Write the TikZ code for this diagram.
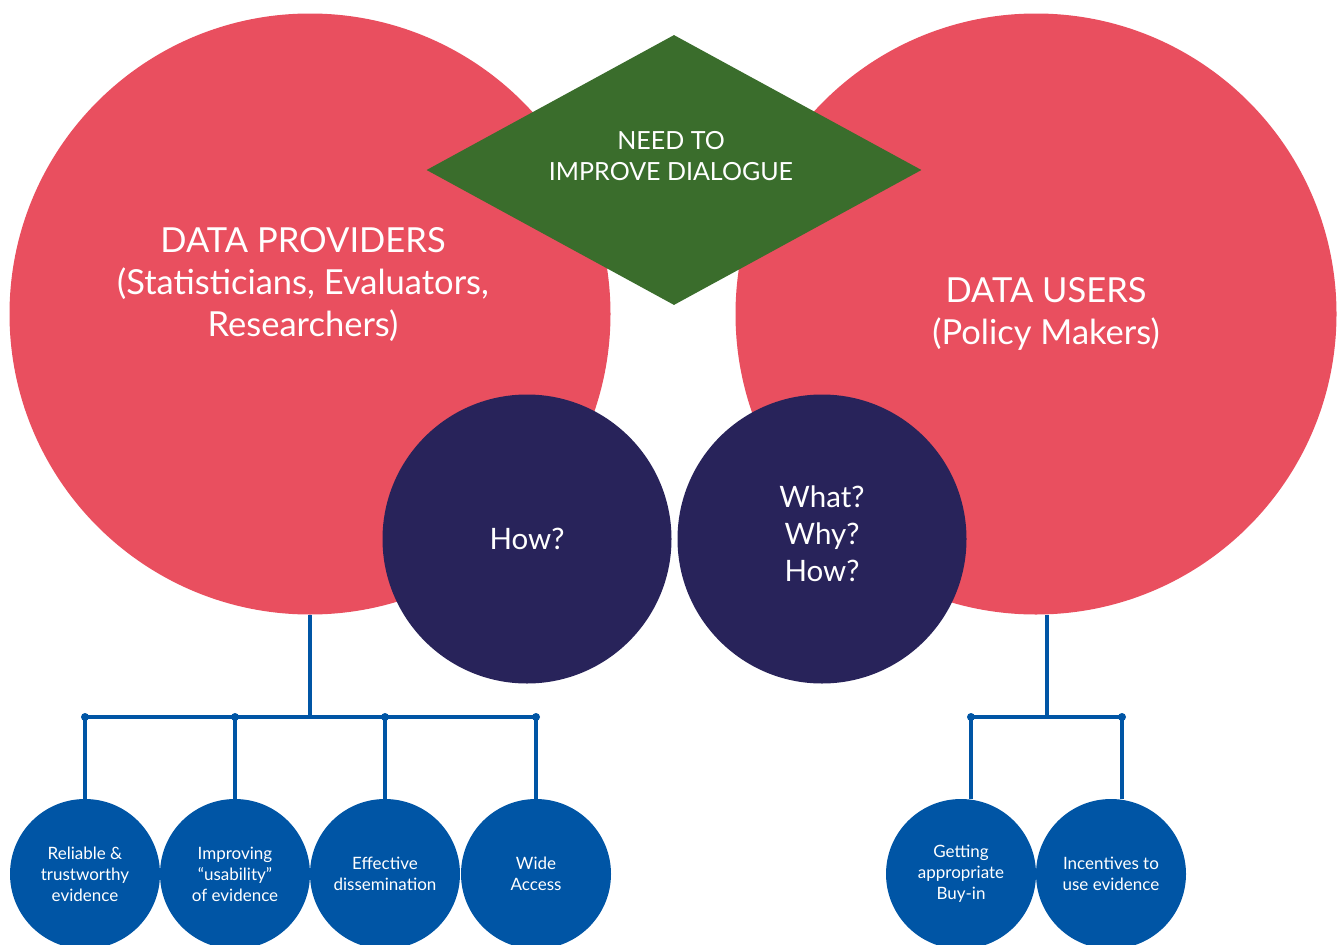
\documentclass[tikz,border=0pt]{standalone}
\usepackage{fontspec}
\setmainfont{Lato}
\usetikzlibrary{shapes.geometric}
\definecolor{discred}{HTML}{E94F5F}
\definecolor{talkgreen}{HTML}{3A6D2C}
\definecolor{asknavy}{HTML}{28235A}
\definecolor{leafblue}{HTML}{0055A5}
\tikzset{
  bigdisc/.style={circle,fill=discred,minimum size=601pt,inner sep=0pt},
  bigtext/.style={text=white,align=center,font=\fontsize{34.5}{42}\selectfont},
  askdisc/.style={circle,fill=asknavy,minimum size=289pt,inner sep=0pt,text=white,align=center,font=\fontsize{29.5}{37}\selectfont},
  leafdisc/.style={circle,fill=leafblue,minimum size=150pt,inner sep=0pt,text=white,align=center,font=\fontsize{17}{21}\selectfont},
  branch/.style={draw=leafblue,line width=4pt},
  joint/.style={fill=leafblue}
}
\begin{document}
\begin{tikzpicture}[x=1pt,y=-1pt]
\useasboundingbox (0,0) rectangle (1339,945);
% the two groups
\node[bigdisc] (prov) at (310,314) {};
\node[bigdisc] (users) at (1036,314) {};
\node[bigtext] (provtext) at (303,285) {DATA PROVIDERS\\(Statisticians, Evaluators,\\Researchers)};
\node[bigtext] (userstext) at (1046,314) {DATA USERS\\(Policy Makers)};
% dialogue
\node[diamond,fill=talkgreen,minimum width=495pt,minimum height=270pt,inner sep=0pt] (talk) at (674,170) {};
\node[text=white,align=center,font=\fontsize{25}{31}\selectfont] (talktext) at (671,156) {NEED TO\\IMPROVE DIALOGUE};
% questions
\node[askdisc] (how) at (527,539) {How?};
\node[askdisc,text depth=10pt] (what) at (822,539) {What?\\Why?\\How?};
% leaves
\node[leafdisc] (reliable) at (85,874) {Reliable \&\\trustworthy\\evidence};
\node[leafdisc] (usable) at (235,874) {Improving\\“usability”\\of evidence};
\node[leafdisc] (spread) at (385,874) {Effective\\dissemination};
\node[leafdisc] (access) at (536,874) {Wide\\Access};
\node[leafdisc] (buyin) at (961,874) {Getting\\appropriate\\Buy-in};
\node[leafdisc] (incent) at (1111,874) {Incentives to\\use evidence};
% branches
\coordinate (provhub) at (310,717);
\coordinate (usershub) at (1047,717);
\draw[branch] (prov.south) -- (provhub);
\draw[branch] (reliable.north) |- (provhub) -| (access.north);
\draw[branch] (usable.north) -- (usable.north |- provhub);
\draw[branch] (spread.north) -- (spread.north |- provhub);
\foreach \n in {reliable,usable,spread,access}
  \fill[joint] (\n.north |- provhub) circle (4pt);
\draw[branch] ([xshift=11pt]users.south) -- (usershub);
\draw[branch] ([xshift=10pt]buyin.north) |- (usershub) -| ([xshift=11pt]incent.north);
\fill[joint] ([xshift=10pt]buyin.north |- usershub) circle (4pt);
\fill[joint] ([xshift=11pt]incent.north |- usershub) circle (4pt);
\end{tikzpicture}
\end{document}
